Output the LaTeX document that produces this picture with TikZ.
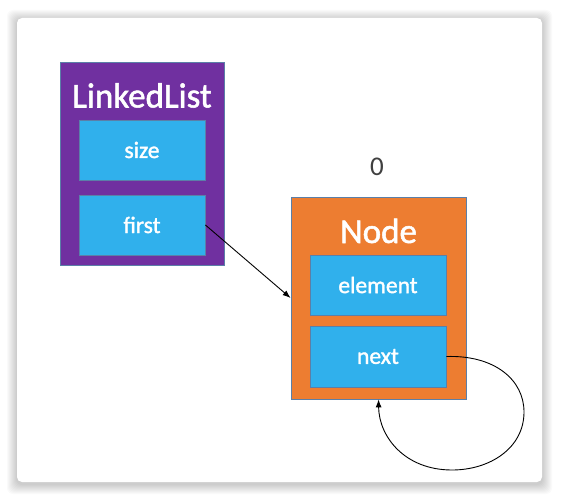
\documentclass[tikz,border=0pt]{standalone}
\usepackage{fontspec}
\setmainfont{Carlito}
\newfontfamily\heavyfont{Carlito}[FakeBold=1.5]
\usetikzlibrary{arrows.meta}
\definecolor{llpurple}{HTML}{7030A0}
\definecolor{fieldblue}{HTML}{30B0EC}
\definecolor{nodeorange}{HTML}{ED7D31}
\definecolor{edgeblue}{HTML}{5B7FA8}
\definecolor{labelgray}{HTML}{404040}
\tikzset{
  outerbox/.style={draw=edgeblue, line width=0.8pt, inner sep=0pt},
  fieldbox/.style={draw=edgeblue, line width=0.8pt, fill=fieldblue, minimum width=126pt, minimum height=60pt, inner sep=0pt, text=white, font=\heavyfont\fontsize{23.5}{26}\selectfont},
  titletext/.style={text=white, font=\heavyfont\fontsize{35}{38}\selectfont, inner sep=0pt, anchor=base},
  ptr/.style={draw=black, line width=0.9pt, -{Latex[length=8pt,width=6pt]}}
}
\begin{document}
\begin{tikzpicture}[x=1pt,y=-1pt]
\useasboundingbox (0,0) rectangle (561,500);
\fill[white] (0,0) rectangle (561,500);
% card shadow
\foreach \i in {1,...,10}{
  \fill[black, opacity=0.018, rounded corners=6pt] (17-\i,18-\i+2) rectangle (542+\i,482+\i+2);
}
\fill[white, rounded corners=5pt] (17,18) rectangle (542,482);
% LinkedList
\node[outerbox, fill=llpurple, minimum width=164pt, minimum height=203pt] (ll) at (142,163.5) {};
\node[titletext] (lltitle) at (142,107.5) {LinkedList};
\node[fieldbox] (size) at (142,150) {size};
\node[fieldbox] (first) at (142,225) {first};
% Node
\node[outerbox, fill=nodeorange, minimum width=175pt, minimum height=202pt] (nodebox) at (378.5,298) {};
\node[titletext] (nodetitle) at (378.5,243) {Node};
\node[fieldbox, minimum width=136pt] (element) at (378,285) {element};
\node[fieldbox, minimum width=136pt, minimum height=61pt] (next) at (378,356.5) {next};
\node[text=labelgray, font=\fontsize{27}{29}\selectfont, inner sep=0pt] (zero) at (377,167) {0};
% connectors
\draw[ptr] (first.east) -- (nodebox.west);
\draw[ptr] (next.east) .. controls (495,355) and (524,380) .. (524,412)
  .. controls (524,448) and (490,470) .. (452,470)
  .. controls (405,470) and (379,437) .. (nodebox.south);
\end{tikzpicture}
\end{document}
